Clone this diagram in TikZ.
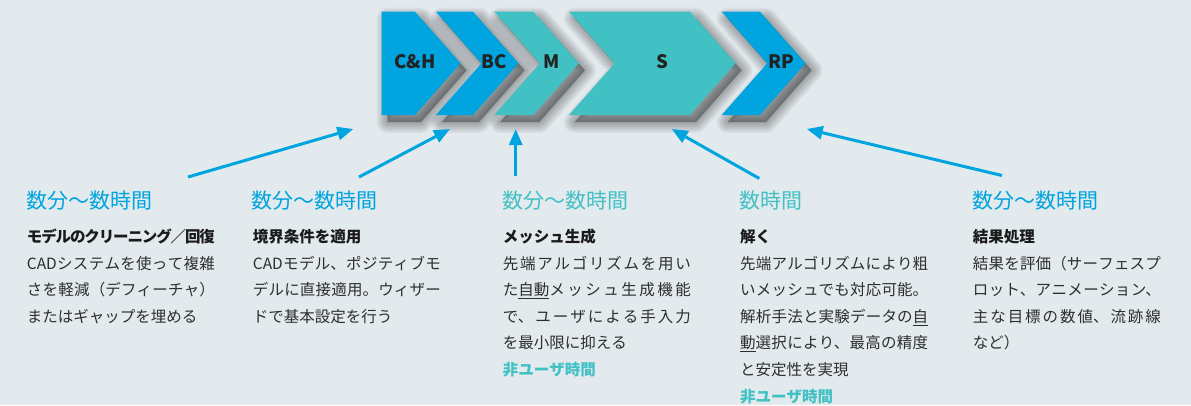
\documentclass[tikz,border=0pt]{standalone}
\usepackage{fontspec}
\setmainfont{Noto Sans CJK JP}
\usetikzlibrary{arrows.meta}
\XeTeXlinebreaklocale "ja"
\XeTeXlinebreakskip=0pt plus 3pt minus 2pt
\XeTeXlinebreakpenalty=0
\definecolor{bg}{HTML}{E3EAEE}
\definecolor{cblue}{HTML}{00A4DE}
\definecolor{cteal}{HTML}{42C1C4}
\definecolor{bodyc}{HTML}{2E2E2E}
\definecolor{titlec}{HTML}{1A1A1A}
\definecolor{labc}{HTML}{222222}
\newcommand\drawchev[4]{% left x, top-right x, notch depth, colour
  \begin{scope}[shift={(6,7)}]
    \foreach \w in {22,19,16,13,10,7,4,1}{%
      \path[draw=black,line width=\w pt,line join=round,draw opacity=0.045,fill=black,fill opacity=0.045]
        (#1,11.7) -- (#2,11.7) -- ++(45.5,51.6) -- (#2,115) -- (#1,115) -- ++(#3,-51.6) -- cycle;}
  \end{scope}
  \path[fill=#4] (#1,11.7) -- (#2,11.7) -- ++(45.5,51.6) -- (#2,115) -- (#1,115) -- ++(#3,-51.6) -- cycle;}
\begin{document}
\begin{tikzpicture}[x=1pt,y=-1pt,
  lab/.style={text=labc,font=\bfseries\fontsize{18.5}{20}\selectfont,inner sep=0},
  head/.style={anchor=base west,inner sep=0,font=\fontsize{21}{24}\selectfont},
  body/.style={anchor=base west,inner sep=0,text width=188pt,align=justify,text=bodyc,font=\fontsize{15.5}{26.6}\selectfont},
  conn/.style={draw=cblue,line width=3pt,-{Triangle[length=16pt,width=13pt]}}]
\useasboundingbox (0,0) rectangle (1191,405);
\fill[bg] (0,0) rectangle (1191,405);
% chevrons
\drawchev{381.7}{415}{0}{cblue}
\drawchev{436}{473}{45.5}{cblue}
\drawchev{494.3}{533.3}{45.5}{cteal}
\drawchev{569}{690}{45.5}{cteal}
\drawchev{721.7}{760}{45.5}{cblue}
\node[lab] (ch) at (415,62) {C\&H};
\node[lab] (bc) at (494.5,62) {BC};
\node[lab] (m) at (551.7,62) {M};
\node[lab] (s) at (662.3,62) {S};
\node[lab] (rp) at (781.7,62) {RP};
% headings
\node[head,text=cblue] (h1) at (26.7,208.5) {数分〜数時間};
\node[head,text=cblue] (h2) at (251.7,208.5) {数分〜数時間};
\node[head,text=cteal] (h3) at (502,208.5) {数分〜数時間};
\node[head,text=cteal] (h4) at (739.5,208.5) {数時間};
\node[head,text=cblue] (h5) at (972,208.5) {数分〜数時間};
% bodies
\node[body] (b1) at (26.7,242.5) {{\bfseries\color{titlec}モデルのクリーニング／回復}\linebreak CADシステムを使って複雑\linebreak さを軽減（デフィーチャ）\linebreak またはギャップを埋める};
\node[body] (b2) at (252.7,242.5) {{\bfseries\color{titlec}境界条件を適用}\\CADモデル、ポジティブモ\linebreak デルに直接適用。ウィザー\linebreak ドで基本設定を行う};
\node[body] (b3) at (502.7,242.5) {{\bfseries\color{titlec}メッシュ生成}\\先端アルゴリズムを用い\linebreak た\underline{自動}メッシュ生成機能\linebreak で、ユーザによる手入力\linebreak を最小限に抑える\\{\bfseries\color{cteal}非ユーザ時間}};
\node[body] (b4) at (740,242.5) {{\bfseries\color{titlec}解く}\\先端アルゴリズムにより粗\linebreak いメッシュでも対応可能。\linebreak 解析手法と実験データの\underline{自}\linebreak \underline{動}選択により、最高の精度\linebreak と安定性を実現\\{\bfseries\color{cteal}非ユーザ時間}};
\node[body] (b5) at (972.7,242.5) {{\bfseries\color{titlec}結果処理}\\結果を評価（サーフェスプ\linebreak ロット、アニメーション、\linebreak 主な目標の数値、流跡線\linebreak など）};
% connectors
\coordinate (a1s) at (188,177);   \coordinate (a1e) at (353.3,129);
\coordinate (a2s) at (359,177);   \coordinate (a2e) at (450,129);
\coordinate (a3s) at (515.7,175.5); \coordinate (a3e) at (515.7,129);
\coordinate (a4s) at (759.3,178.5); \coordinate (a4e) at (671.7,129);
\coordinate (a5s) at (1002,175.5); \coordinate (a5e) at (806.7,129);
\draw[conn] (a1s) -- (a1e);
\draw[conn] (a2s) -- (a2e);
\draw[conn] (a3s) -- (a3e);
\draw[conn] (a4s) -- (a4e);
\draw[conn] (a5s) -- (a5e);
\end{tikzpicture}
\end{document}
